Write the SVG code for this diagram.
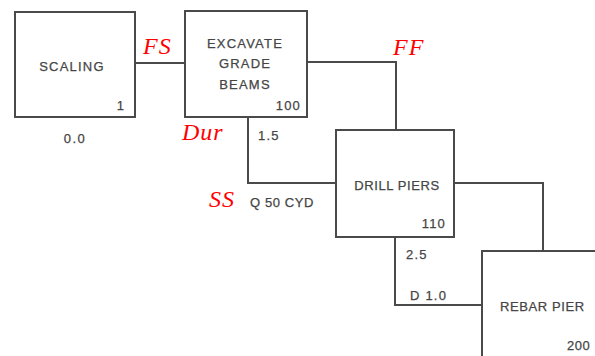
<svg xmlns="http://www.w3.org/2000/svg" width="595" height="356" viewBox="0 0 595 356">
<style>
.box{fill:#fff;stroke:#4a4a4a;stroke-width:2}
.ln{fill:none;stroke:#4a4a4a;stroke-width:2}
.t{font-family:"Liberation Sans",Arial,sans-serif;font-size:13px;fill:#454545;letter-spacing:1.2px;stroke:#454545;stroke-width:0.25}
.r{font-family:"Liberation Serif","Times New Roman",serif;font-style:italic;font-size:24px;fill:#ff0000;letter-spacing:1px}
</style>
<rect width="595" height="356" fill="#fff"/>
<g id="connectors">
<path class="ln" d="M135 63 H185"/>
<path class="ln" d="M307 62 H396 V130"/>
<path class="ln" d="M248 117 V183 H336"/>
<path class="ln" d="M454 183 H543 V251"/>
<path class="ln" d="M395 237 V305 H482"/>
</g>
<g id="scaling">
<rect class="box" x="15" y="12" width="120" height="105"/>
<text class="t" x="72" y="71" text-anchor="middle">SCALING</text>
<text class="t" x="121" y="110" text-anchor="middle">1</text>
<text class="t" x="75" y="143" text-anchor="middle" style="letter-spacing:1.5px">0.0</text>
</g>
<g id="excavate">
<rect class="box" x="185" y="11" width="122" height="106"/>
<text class="t" x="245" y="48" text-anchor="middle">EXCAVATE</text>
<text class="t" x="245" y="68" text-anchor="middle">GRADE</text>
<text class="t" x="245" y="89" text-anchor="middle">BEAMS</text>
<text class="t" x="301" y="110" text-anchor="end">100</text>
<text class="t" x="258" y="140">1.5</text>
<text class="t" x="250" y="207" style="letter-spacing:0.6px">Q 50 CYD</text>
</g>
<g id="drill">
<rect class="box" x="336" y="130" width="118" height="107"/>
<text class="t" x="397" y="190" text-anchor="middle" style="letter-spacing:0.6px">DRILL PIERS</text>
<text class="t" x="446" y="228" text-anchor="end">110</text>
<text class="t" x="406" y="259">2.5</text>
<text class="t" x="410" y="300">D 1.0</text>
</g>
<g id="rebar">
<rect class="box" x="482" y="251" width="130" height="120"/>
<text class="t" x="500" y="311" style="letter-spacing:0.6px">REBAR PIER</text>
<text class="t" x="567" y="350" style="letter-spacing:0.5px">200</text>
</g>
<g id="labels">
<text class="r" x="143" y="54">FS</text>
<text class="r" x="182" y="140">Dur</text>
<text class="r" x="209" y="207">SS</text>
<text class="r" x="393" y="55">FF</text>
</g>
</svg>
